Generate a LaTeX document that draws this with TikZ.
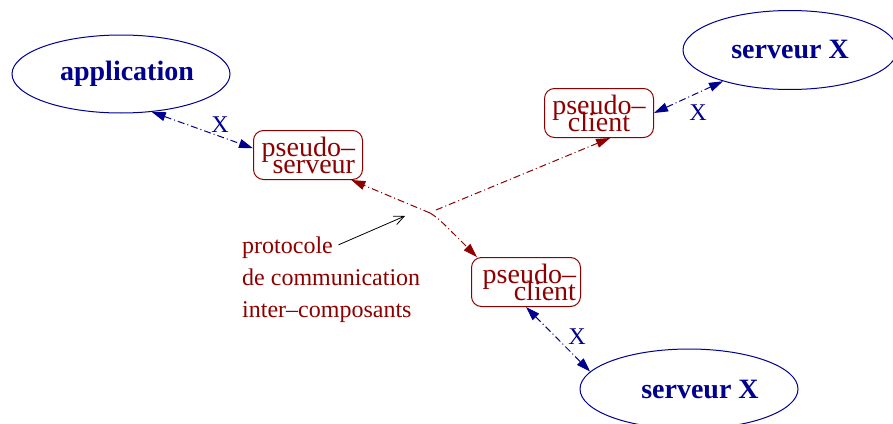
\documentclass[tikz,border=0pt]{standalone}
\usepackage{fontspec}
\setmainfont{Liberation Serif}
\usetikzlibrary{arrows.meta,shapes.geometric}
\definecolor{xblue}{HTML}{00008F}
\definecolor{xred}{HTML}{8E0000}
\newcommand\mytightlines{\lineskiplimit=-100pt\relax\lineskip=0pt\relax}
\begin{document}
\begin{tikzpicture}[x=1pt,y=-1pt,
 ell/.style={ellipse,draw=xblue,line width=1pt,inner sep=0pt,text=xblue,font=\fontsize{28}{30}\selectfont\bfseries},
 pbox/.style={draw=xred,line width=1pt,rounded corners=10pt,minimum width=109pt,minimum height=49pt,inner sep=0pt,text=xred,font=\fontsize{28}{17}\selectfont\mytightlines},
 dashdot/.style={dash pattern=on 7pt off 3pt on 1pt off 3pt,line width=1pt},
 bluelink/.style={dashdot,color=xblue,{Triangle[length=14pt,width=9pt]}-{Triangle[length=14pt,width=9pt]}},
 redlink/.style={dashdot,color=xred,-{Triangle[length=14pt,width=9pt]}},
 xlab/.style={text=xblue,font=\fontsize{24}{26}\selectfont,inner sep=0pt},
 captext/.style={text=xred,font=\fontsize{24}{26}\selectfont,inner sep=0pt,anchor=base west}
]
\useasboundingbox (0,0) rectangle (893,423);

\node[ell,minimum width=218pt,minimum height=78pt] (app) at (121,74) {\hspace*{12pt}application};
\node[ell,minimum width=214pt,minimum height=79pt] (srvA) at (790,50) {serveur X};
\node[ell,minimum width=218pt,minimum height=80pt] (srvB) at (689,389) {\hspace*{22pt}serveur X};

\node[pbox,text width=94pt,align=right] (ps) at (308,155) {pseudo–\\serveur};
\node[pbox,align=center] (pc1) at (599,113) {pseudo–\\client};
\node[pbox,text width=100pt,align=right] (pc2) at (526,282) {pseudo–\\client};

\coordinate (J) at (430,213);
\coordinate (J2) at (438,218);
\coordinate (J3) at (436,210);
\coordinate (P) at (405,216);

\draw[bluelink] (app.-51) -- (ps.173);
\draw[bluelink] (pc1.east) -- (srvA.-155);
\draw[bluelink] (pc2.south) -- (srvB.170);
\draw[redlink] (J) -- (ps.-30);
\draw[redlink] (J) .. controls (J2) .. (pc2.153);
\draw[redlink] (J3) -- (pc1.-66);

\node[xlab] (x1) at (220,125) {X};
\node[xlab] (x2) at (698,113) {X};
\node[xlab] (x3) at (577,337) {X};

\node[captext] (c1) at (242,253) {protocole};
\node[captext] (c2) at (242,285) {de communication};
\node[captext] (c3) at (242,317) {inter–composants};
\draw[line width=0.8pt,shorten <=6pt,-{Straight Barb[length=10pt,width=9pt]}] (c1.east) -- (P);
\end{tikzpicture}
\end{document}
